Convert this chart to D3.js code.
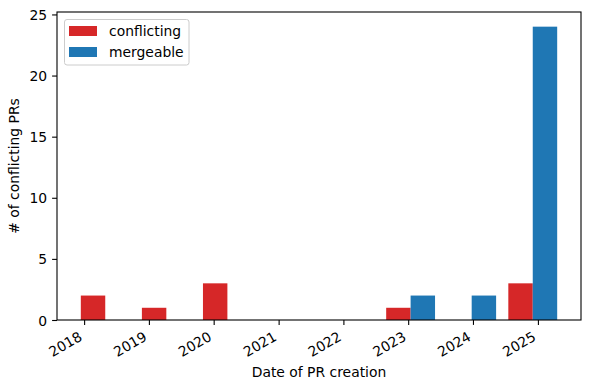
<!DOCTYPE html>
<html><head><meta charset="utf-8">
<script src="https://cdn.jsdelivr.net/npm/d3@7"></script>
<style>body{margin:0;background:#fff} text{font-family:"DejaVu Sans",sans-serif;fill:#000}</style>
</head><body><svg id="c" width="589" height="389"></svg>
<script>
// ---- data ----
const seriesNames = ["conflicting", "mergeable"];
const seriesColors = ["#d62728", "#1f77b4"];
const binRange = ["2017-11-09", "2025-05-24"]; // histogram range (8 equal bins)
const conflicting = [2, 1, 3, 0, 0, 1, 0, 3];
const mergeable = [0, 0, 0, 0, 0, 2, 2, 24];
const tickYears = ["2018", "2019", "2020", "2021", "2022", "2023", "2024", "2025"];
const yTicks = [0, 5, 10, 15, 20, 25];
const xLabel = "Date of PR creation";
const yLabel = "# of conflicting PRs";

// ---- layout ----
const W = 589, H = 389;
const m = {l: 57, r: 8, t: 12, b: 69};
const iw = W - m.l - m.r, ih = H - m.t - m.b;
const svg = d3.select("#c");
const g = svg.append("g").attr("transform", `translate(${m.l},${m.t})`);

const series = [conflicting, mergeable];
const nb = conflicting.length;
const t0 = new Date(binRange[0] + "T00:00:00Z").getTime();
const t1 = new Date(binRange[1] + "T00:00:00Z").getTime();
const tw = (t1 - t0) / nb;
const dr = 0.8, nx = series.length;
const bw = dr * tw / nx;
// data limits = bar extents, with 5% margin
const dMin = t0 + 0.5 * tw - 0.5 * dr * tw;
const dMax = t0 + (nb - 1) * tw + 0.5 * tw + 0.5 * dr * tw;
const mg = 0.05 * (dMax - dMin);
const x = d3.scaleUtc().domain([new Date(dMin - mg), new Date(dMax + mg)]).range([0, iw]);
const yMax = d3.max(series.flat()) * 1.05;
const y = d3.scaleLinear().domain([0, yMax]).range([ih, 0]);

// bars
series.forEach((vals, s) => {
  const bars = vals.map((v, i) => {
    const left = t0 + i * tw + 0.5 * tw - 0.5 * dr * tw + s * bw;
    return {x0: new Date(left), x1: new Date(left + bw), v};
  }).filter(d => d.v > 0);
  g.append("g").selectAll("rect").data(bars).join("rect")
    .attr("x", d => x(d.x0))
    .attr("width", d => x(d.x1) - x(d.x0))
    .attr("y", d => y(d.v))
    .attr("height", d => y(0) - y(d.v))
    .attr("fill", seriesColors[s]);
});

// axes
const fs = 13.9;
const xTickDates = tickYears.map(t => new Date(t + "-01-01T00:00:00Z"));
const xa = g.append("g").attr("transform", `translate(0,${ih})`)
  .call(d3.axisBottom(x).tickValues(xTickDates).tickFormat(d3.utcFormat("%Y")).tickSize(4.9).tickPadding(0));
xa.select(".domain").remove();
xa.selectAll("line").attr("stroke", "#000").attr("stroke-width", 1.1);
xa.selectAll("text")
  .attr("font-size", fs).attr("text-anchor", "end").attr("dy", null).attr("y", null)
  .attr("transform", "translate(-1.5,19.5) rotate(-30)");

const ya = g.append("g")
  .call(d3.axisLeft(y).tickValues(yTicks).tickFormat(d3.format("d")).tickSize(4.9).tickPadding(4.9));
ya.select(".domain").remove();
ya.selectAll("line").attr("stroke", "#000").attr("stroke-width", 1.1);
ya.selectAll("text").attr("font-size", fs).attr("dy", "0.36em");

// frame
g.append("rect").attr("x", 0).attr("y", 0).attr("width", iw).attr("height", ih)
  .attr("fill", "none").attr("stroke", "#000").attr("stroke-width", 1.1);

// labels
svg.append("text").attr("x", m.l + iw / 2).attr("y", 377).attr("text-anchor", "middle")
  .attr("font-size", fs).text(xLabel);
svg.append("text").attr("transform", `translate(18.5,${m.t + ih / 2}) rotate(-90)`)
  .attr("text-anchor", "middle").attr("font-size", fs).text(yLabel);

// legend
const lg = svg.append("g");
lg.append("rect").attr("x", 64.5).attr("y", 19.5).attr("width", 124.5).attr("height", 45.5)
  .attr("rx", 2.5).attr("fill", "#fff").attr("fill-opacity", 0.8)
  .attr("stroke", "#cccccc").attr("stroke-width", 1);
seriesNames.forEach((n, i) => {
  lg.append("rect").attr("x", 69).attr("y", 26 + i * 21).attr("width", 28).attr("height", 10)
    .attr("fill", seriesColors[i]);
  lg.append("text").attr("x", 109).attr("y", 36 + i * 21).attr("font-size", fs).text(n);
});
</script></body></html>
